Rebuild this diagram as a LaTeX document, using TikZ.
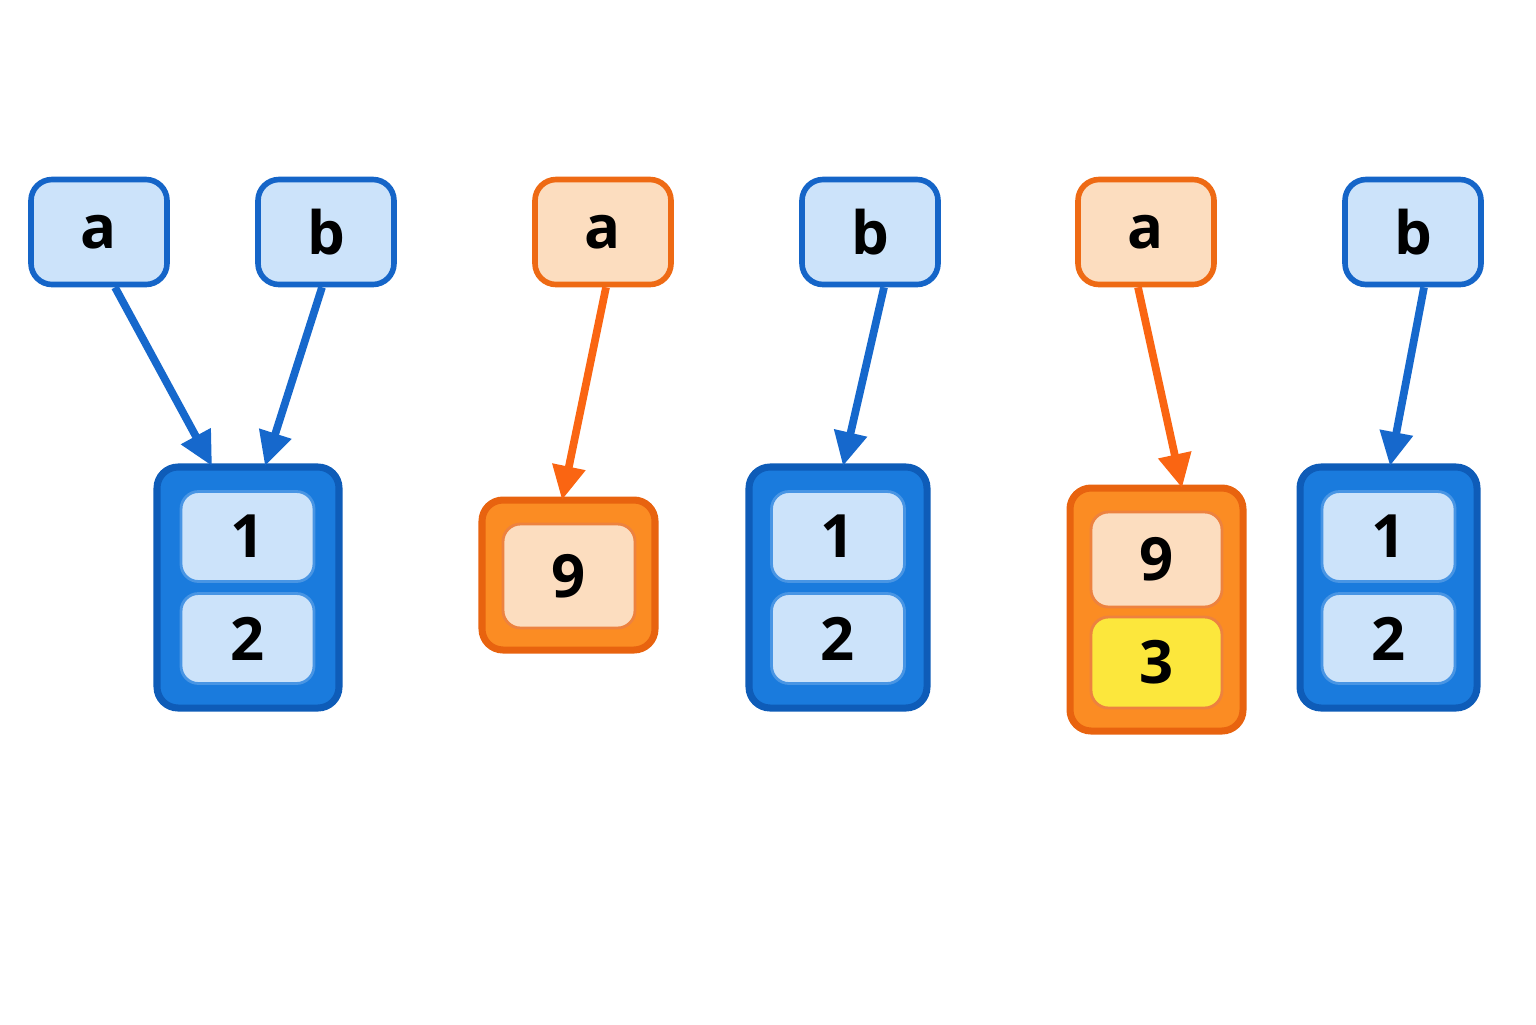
\documentclass[tikz,border=0pt]{standalone}
\usepackage{fontspec}
\setmainfont{Open Sans}
\usetikzlibrary{shapes,arrows,arrows.meta,positioning,calc}
\definecolor{bluefill}{HTML}{CCE3FA}
\definecolor{blueline}{HTML}{1565C8}
\definecolor{bluebox}{HTML}{1A7BDD}
\definecolor{blueedge}{HTML}{0E5CB8}
\definecolor{orfill}{HTML}{FCDDBF}
\definecolor{orline}{HTML}{EE6A14}
\definecolor{orbox}{HTML}{FB8C23}
\definecolor{oredge}{HTML}{E8630F}
\definecolor{yelfill}{HTML}{FCE73C}
\definecolor{arrblue}{HTML}{1668CC}
\definecolor{arrorange}{HTML}{FA6512}
\tikzset{
  var/.style={draw=blueline, fill=bluefill, line width=1.6pt, rounded corners=6pt,
    minimum width=1.36cm, minimum height=1.05cm, font=\fontsize{17}{20}\selectfont\bfseries},
  ovar/.style={var, draw=orline, fill=orfill},
  heap/.style={draw=blueedge, fill=bluebox, line width=2pt, rounded corners=6pt},
  oheap/.style={draw=oredge, fill=orbox, line width=2pt, rounded corners=6pt},
  cell/.style={draw=bluebox!80!white, fill=bluefill, line width=0.8pt, rounded corners=5pt,
    minimum width=1.33cm, minimum height=0.9cm, font=\fontsize{17}{20}\selectfont\bfseries},
  ocell/.style={cell, draw=oredge!80!white, fill=orfill},
  ycell/.style={cell, draw=oredge!80!white, fill=yelfill},
  ptr/.style={line width=2.2pt, draw=arrblue, -{Triangle[length=0.34cm,width=0.32cm]}},
  optr/.style={ptr, draw=arrorange, fill=arrorange}
}
\begin{document}
\begin{tikzpicture}[y=-1cm]
\useasboundingbox (0,0) rectangle (15.36,10.24);

% variables
\node[var]  (a1) at (0.99, 2.32) {a};
\node[var]  (b1) at (3.26, 2.32) {b};
\node[ovar] (a2) at (6.03, 2.32) {a};
\node[var]  (b2) at (8.70, 2.32) {b};
\node[ovar] (a3) at (11.46, 2.32) {a};
\node[var]  (b3) at (14.13, 2.32) {b};

% objects
\draw[heap] (1.57, 4.67) rectangle (3.39, 7.08);
\node[cell] (c11) at (2.475, 5.365) {1};
\node[cell] (c12) at (2.475, 6.385) {2};

\draw[oheap] (4.82, 5.00) rectangle (6.55, 6.50);
\node[ocell, minimum width=1.32cm, minimum height=1.04cm] (c21) at (5.69, 5.76) {9};

\draw[heap] (7.49, 4.67) rectangle (9.27, 7.08);
\node[cell] (c31) at (8.38, 5.365) {1};
\node[cell] (c32) at (8.38, 6.385) {2};

\draw[oheap] (10.70, 4.88) rectangle (12.43, 7.31);
\node[ocell, minimum width=1.31cm, minimum height=0.95cm] (c41) at (11.565, 5.595) {9};
\node[ycell, minimum width=1.31cm, minimum height=0.91cm] (c42) at (11.565, 6.625) {3};

\draw[heap] (13.00, 4.67) rectangle (14.77, 7.08);
\node[cell] (c51) at (13.885, 5.365) {1};
\node[cell] (c52) at (13.885, 6.385) {2};

% arrow targets
\coordinate (t1a) at (2.12, 4.66);
\coordinate (t1b) at (2.65, 4.66);
\coordinate (t2) at (5.62, 5.00);
\coordinate (t3) at (8.43, 4.66);
\coordinate (t4) at (11.82, 4.88);
\coordinate (t5) at (13.90, 4.66);

% pointers
\draw[ptr]  (a1.south) ++(0.16,0) coordinate (s1) (s1) -- (t1a);
\draw[ptr]  ($(b1.south)+(-0.04,0)$) -- (t1b);
\draw[optr] ($(a2.south)+(0.03,0)$) -- (t2);
\draw[ptr]  ($(b2.south)+(0.14,0)$) -- (t3);
\draw[optr] ($(a3.south)+(-0.08,0)$) -- (t4);
\draw[ptr]  ($(b3.south)+(0.11,0)$) -- (t5);

\end{tikzpicture}
\end{document}
